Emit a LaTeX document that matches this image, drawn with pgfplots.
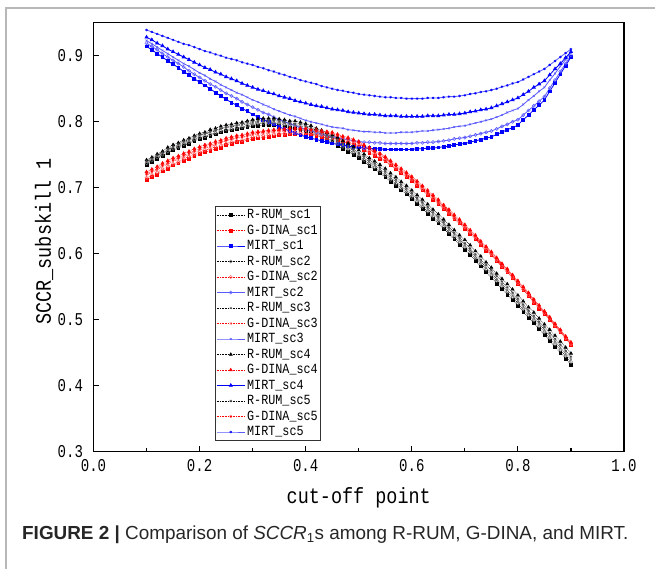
\documentclass[border=0pt]{standalone}
\usepackage{pgfplots}
\pgfplotsset{compat=1.18}
\usepackage{pgfplotstable}
\usepackage{fontspec}
\setmainfont{Liberation Serif}
\newfontfamily\chartfont[FakeStretch=0.84]{Liberation Mono}
\newfontfamily\tickfont[FakeStretch=0.78]{Liberation Mono}
\newfontfamily\capfont{Liberation Sans}

\definecolor{rgray}{RGB}{110,110,110}
\definecolor{lred}{RGB}{255,90,90}
\definecolor{mblue}{RGB}{0,0,255}
\definecolor{lblue}{RGB}{90,90,255}

% R-RUM: x sc1 sc2 sc3 sc4 sc5
\pgfplotstableread{
x s1 s2 s3 s4 s5
0.10 0.735 0.737 0.739 0.742 0.740
0.11 0.739 0.741 0.743 0.746 0.744
0.12 0.744 0.746 0.748 0.751 0.749
0.13 0.748 0.750 0.752 0.755 0.753
0.14 0.753 0.755 0.757 0.761 0.758
0.15 0.757 0.759 0.761 0.765 0.762
0.16 0.760 0.762 0.764 0.768 0.766
0.17 0.764 0.766 0.768 0.772 0.770
0.18 0.767 0.769 0.771 0.775 0.773
0.19 0.771 0.773 0.775 0.779 0.777
0.20 0.774 0.776 0.779 0.782 0.780
0.21 0.776 0.778 0.781 0.784 0.782
0.22 0.779 0.781 0.784 0.788 0.785
0.23 0.781 0.783 0.786 0.790 0.787
0.24 0.784 0.786 0.789 0.793 0.790
0.25 0.786 0.788 0.791 0.795 0.792
0.26 0.787 0.789 0.792 0.796 0.793
0.27 0.789 0.791 0.794 0.798 0.795
0.28 0.790 0.792 0.795 0.799 0.797
0.29 0.792 0.794 0.797 0.801 0.799
0.30 0.793 0.796 0.798 0.803 0.800
0.31 0.794 0.797 0.799 0.804 0.801
0.32 0.795 0.798 0.800 0.805 0.802
0.33 0.795 0.798 0.800 0.805 0.802
0.34 0.795 0.798 0.800 0.805 0.802
0.35 0.794 0.797 0.799 0.804 0.801
0.36 0.793 0.796 0.798 0.803 0.800
0.37 0.791 0.794 0.796 0.801 0.798
0.38 0.790 0.793 0.795 0.801 0.797
0.39 0.788 0.791 0.793 0.799 0.796
0.40 0.786 0.789 0.792 0.797 0.794
0.41 0.783 0.786 0.789 0.794 0.791
0.42 0.779 0.782 0.785 0.790 0.787
0.43 0.776 0.779 0.782 0.787 0.784
0.44 0.772 0.775 0.778 0.783 0.780
0.45 0.769 0.772 0.775 0.780 0.777
0.46 0.764 0.767 0.770 0.776 0.772
0.47 0.759 0.762 0.765 0.771 0.767
0.48 0.755 0.758 0.761 0.767 0.763
0.49 0.750 0.753 0.756 0.762 0.758
0.50 0.745 0.748 0.751 0.757 0.753
0.51 0.739 0.742 0.745 0.751 0.748
0.52 0.733 0.736 0.739 0.745 0.742
0.53 0.728 0.731 0.734 0.740 0.737
0.54 0.722 0.725 0.728 0.735 0.731
0.55 0.716 0.719 0.722 0.729 0.725
0.56 0.709 0.712 0.715 0.722 0.718
0.57 0.703 0.706 0.709 0.716 0.712
0.58 0.696 0.699 0.702 0.709 0.705
0.59 0.690 0.693 0.696 0.703 0.699
0.60 0.683 0.686 0.690 0.696 0.692
0.61 0.676 0.679 0.683 0.689 0.685
0.62 0.668 0.671 0.675 0.682 0.678
0.63 0.661 0.664 0.668 0.675 0.671
0.64 0.653 0.656 0.660 0.667 0.663
0.65 0.646 0.649 0.653 0.660 0.656
0.66 0.638 0.641 0.645 0.652 0.648
0.67 0.630 0.633 0.637 0.644 0.640
0.68 0.622 0.625 0.629 0.636 0.632
0.69 0.614 0.617 0.621 0.628 0.624
0.70 0.606 0.610 0.613 0.621 0.616
0.71 0.598 0.602 0.605 0.613 0.608
0.72 0.589 0.593 0.596 0.604 0.599
0.73 0.581 0.585 0.588 0.596 0.591
0.74 0.572 0.576 0.579 0.587 0.583
0.75 0.564 0.568 0.571 0.579 0.575
0.76 0.555 0.559 0.562 0.570 0.566
0.77 0.547 0.551 0.554 0.562 0.558
0.78 0.538 0.542 0.545 0.554 0.549
0.79 0.530 0.534 0.537 0.546 0.541
0.80 0.521 0.525 0.529 0.537 0.532
0.81 0.512 0.516 0.520 0.528 0.523
0.82 0.503 0.507 0.511 0.519 0.514
0.83 0.495 0.499 0.503 0.511 0.506
0.84 0.486 0.490 0.494 0.502 0.497
0.85 0.477 0.481 0.485 0.493 0.489
0.86 0.468 0.472 0.476 0.485 0.480
0.87 0.459 0.463 0.467 0.476 0.471
0.88 0.450 0.454 0.458 0.467 0.462
0.89 0.441 0.445 0.449 0.458 0.453
0.90 0.432 0.436 0.440 0.449 0.444
}\rrum

% G-DINA: x sc1 sc2 sc3 sc4 sc5
\pgfplotstableread{
x s1 s2 s3 s4 s5
0.10 0.712 0.715 0.719 0.724 0.721
0.11 0.716 0.719 0.723 0.728 0.725
0.12 0.720 0.723 0.727 0.732 0.729
0.13 0.725 0.728 0.732 0.737 0.734
0.14 0.729 0.732 0.736 0.741 0.738
0.15 0.734 0.736 0.740 0.745 0.742
0.16 0.737 0.739 0.743 0.748 0.745
0.17 0.741 0.744 0.747 0.752 0.749
0.18 0.744 0.747 0.750 0.755 0.752
0.19 0.748 0.751 0.754 0.759 0.756
0.20 0.751 0.754 0.757 0.762 0.759
0.21 0.754 0.757 0.760 0.765 0.762
0.22 0.756 0.759 0.762 0.767 0.764
0.23 0.759 0.762 0.765 0.770 0.767
0.24 0.761 0.764 0.768 0.772 0.769
0.25 0.765 0.767 0.771 0.775 0.772
0.26 0.767 0.769 0.773 0.777 0.774
0.27 0.769 0.771 0.775 0.779 0.776
0.28 0.770 0.772 0.776 0.780 0.777
0.29 0.772 0.774 0.778 0.782 0.779
0.30 0.774 0.777 0.780 0.784 0.782
0.31 0.775 0.778 0.781 0.785 0.783
0.32 0.776 0.779 0.782 0.786 0.784
0.33 0.777 0.780 0.783 0.787 0.785
0.34 0.778 0.781 0.784 0.788 0.786
0.35 0.780 0.782 0.785 0.789 0.787
0.36 0.780 0.782 0.785 0.789 0.787
0.37 0.781 0.783 0.786 0.790 0.788
0.38 0.781 0.783 0.786 0.790 0.788
0.39 0.781 0.783 0.786 0.790 0.788
0.40 0.781 0.783 0.786 0.790 0.788
0.41 0.780 0.782 0.785 0.789 0.787
0.42 0.779 0.781 0.784 0.788 0.786
0.43 0.777 0.779 0.782 0.786 0.784
0.44 0.776 0.779 0.781 0.785 0.783
0.45 0.776 0.778 0.780 0.784 0.782
0.46 0.773 0.775 0.777 0.781 0.779
0.47 0.770 0.772 0.774 0.778 0.776
0.48 0.768 0.770 0.772 0.776 0.774
0.49 0.765 0.767 0.769 0.773 0.771
0.50 0.762 0.764 0.767 0.770 0.768
0.51 0.757 0.759 0.762 0.765 0.763
0.52 0.753 0.755 0.758 0.761 0.759
0.53 0.748 0.750 0.753 0.756 0.754
0.54 0.744 0.746 0.749 0.752 0.750
0.55 0.740 0.741 0.744 0.747 0.745
0.56 0.734 0.735 0.738 0.741 0.739
0.57 0.728 0.730 0.732 0.735 0.733
0.58 0.722 0.724 0.726 0.729 0.727
0.59 0.716 0.718 0.720 0.723 0.721
0.60 0.710 0.712 0.714 0.717 0.715
0.61 0.703 0.705 0.707 0.710 0.708
0.62 0.696 0.698 0.700 0.703 0.701
0.63 0.689 0.691 0.693 0.696 0.694
0.64 0.682 0.684 0.686 0.689 0.687
0.65 0.676 0.677 0.679 0.682 0.680
0.66 0.668 0.669 0.671 0.674 0.672
0.67 0.661 0.662 0.664 0.667 0.665
0.68 0.653 0.654 0.656 0.659 0.657
0.69 0.646 0.647 0.649 0.652 0.650
0.70 0.638 0.640 0.641 0.644 0.643
0.71 0.630 0.632 0.633 0.636 0.635
0.72 0.622 0.624 0.625 0.628 0.627
0.73 0.613 0.615 0.616 0.619 0.618
0.74 0.605 0.607 0.608 0.611 0.610
0.75 0.598 0.599 0.600 0.603 0.602
0.76 0.589 0.590 0.591 0.594 0.593
0.77 0.580 0.581 0.583 0.585 0.584
0.78 0.572 0.573 0.575 0.577 0.576
0.79 0.563 0.564 0.566 0.568 0.567
0.80 0.554 0.555 0.557 0.559 0.558
0.81 0.545 0.546 0.548 0.550 0.549
0.82 0.536 0.537 0.539 0.541 0.540
0.83 0.526 0.527 0.529 0.531 0.530
0.84 0.517 0.519 0.520 0.522 0.521
0.85 0.509 0.510 0.511 0.513 0.512
0.86 0.500 0.501 0.502 0.504 0.503
0.87 0.490 0.491 0.492 0.494 0.493
0.88 0.481 0.482 0.483 0.485 0.484
0.89 0.471 0.472 0.473 0.475 0.474
0.90 0.462 0.463 0.464 0.466 0.465
}\gdina

% MIRT: x sc1 sc2 sc3 sc4 sc5
\pgfplotstableread{
x s1 s2 s3 s4 s5
0.10 0.914 0.919 0.923 0.928 0.939
0.11 0.909 0.914 0.918 0.924 0.936
0.12 0.903 0.909 0.913 0.919 0.933
0.13 0.898 0.903 0.908 0.915 0.930
0.14 0.892 0.898 0.903 0.910 0.927
0.15 0.887 0.893 0.898 0.906 0.924
0.16 0.882 0.888 0.893 0.902 0.921
0.17 0.876 0.883 0.888 0.898 0.918
0.18 0.871 0.877 0.884 0.894 0.916
0.19 0.865 0.872 0.879 0.890 0.913
0.20 0.860 0.867 0.874 0.886 0.910
0.21 0.855 0.862 0.870 0.882 0.907
0.22 0.850 0.857 0.865 0.879 0.905
0.23 0.844 0.853 0.861 0.875 0.902
0.24 0.839 0.848 0.856 0.872 0.900
0.25 0.834 0.843 0.852 0.868 0.897
0.26 0.829 0.839 0.848 0.865 0.895
0.27 0.825 0.835 0.844 0.862 0.893
0.28 0.820 0.830 0.841 0.858 0.890
0.29 0.816 0.826 0.837 0.855 0.888
0.30 0.811 0.822 0.833 0.852 0.886
0.31 0.807 0.818 0.830 0.849 0.883
0.32 0.803 0.814 0.826 0.847 0.881
0.33 0.800 0.811 0.823 0.844 0.878
0.34 0.796 0.807 0.819 0.842 0.876
0.35 0.792 0.803 0.816 0.839 0.873
0.36 0.789 0.800 0.813 0.837 0.871
0.37 0.786 0.797 0.810 0.835 0.868
0.38 0.783 0.794 0.808 0.832 0.866
0.39 0.780 0.791 0.805 0.830 0.863
0.40 0.777 0.788 0.802 0.828 0.861
0.41 0.775 0.786 0.800 0.826 0.859
0.42 0.773 0.784 0.798 0.824 0.857
0.43 0.771 0.781 0.796 0.823 0.854
0.44 0.769 0.779 0.794 0.821 0.852
0.45 0.767 0.777 0.792 0.819 0.850
0.46 0.766 0.776 0.791 0.818 0.848
0.47 0.765 0.774 0.790 0.817 0.847
0.48 0.763 0.773 0.788 0.815 0.845
0.49 0.762 0.771 0.787 0.814 0.844
0.50 0.761 0.770 0.786 0.813 0.842
0.51 0.760 0.769 0.785 0.812 0.841
0.52 0.760 0.769 0.785 0.811 0.840
0.53 0.759 0.768 0.784 0.811 0.839
0.54 0.759 0.768 0.784 0.810 0.838
0.55 0.758 0.767 0.783 0.809 0.837
0.56 0.758 0.767 0.783 0.809 0.837
0.57 0.758 0.767 0.783 0.809 0.836
0.58 0.758 0.767 0.784 0.808 0.836
0.59 0.758 0.767 0.784 0.808 0.835
0.60 0.758 0.767 0.784 0.808 0.835
0.61 0.759 0.768 0.785 0.808 0.835
0.62 0.759 0.768 0.786 0.808 0.835
0.63 0.760 0.769 0.786 0.809 0.836
0.64 0.760 0.769 0.787 0.809 0.836
0.65 0.761 0.770 0.788 0.809 0.836
0.66 0.762 0.771 0.789 0.810 0.837
0.67 0.763 0.772 0.790 0.811 0.838
0.68 0.765 0.774 0.792 0.811 0.838
0.69 0.766 0.775 0.793 0.812 0.839
0.70 0.767 0.776 0.794 0.813 0.840
0.71 0.769 0.778 0.796 0.815 0.842
0.72 0.771 0.780 0.798 0.816 0.843
0.73 0.773 0.782 0.800 0.818 0.845
0.74 0.775 0.784 0.802 0.819 0.846
0.75 0.777 0.786 0.804 0.821 0.848
0.76 0.781 0.789 0.807 0.824 0.850
0.77 0.784 0.793 0.810 0.827 0.853
0.78 0.788 0.796 0.814 0.830 0.855
0.79 0.791 0.800 0.817 0.833 0.858
0.80 0.795 0.803 0.820 0.836 0.860
0.81 0.803 0.810 0.826 0.841 0.864
0.82 0.810 0.817 0.833 0.846 0.868
0.83 0.818 0.824 0.839 0.852 0.872
0.84 0.825 0.831 0.846 0.857 0.876
0.85 0.833 0.838 0.852 0.862 0.880
0.86 0.846 0.851 0.863 0.871 0.886
0.87 0.859 0.863 0.873 0.880 0.892
0.88 0.872 0.876 0.884 0.888 0.898
0.89 0.885 0.888 0.894 0.897 0.904
0.90 0.898 0.901 0.905 0.906 0.910
}\mirt

\begin{document}
\begin{tikzpicture}
\path[use as bounding box] (0bp,0bp) rectangle (655bp,-569bp);
\draw[black!28, line width=1.6bp] (6bp,-569bp) -- (6bp,-8bp) -- (655bp,-8bp);

\begin{axis}[
  at={(93.5bp,-451.7bp)}, anchor=south west,
  scale only axis, width=530.5bp, height=429bp,
  xmin=0, xmax=1, ymin=0.3, ymax=0.95,
  xtick={0,0.2,...,1.0}, minor xtick={0.1,0.3,...,0.9},
  ytick={0.3,0.4,...,0.9},
  xtick pos=bottom, ytick pos=left,
  tick align=inside,
  major tick length=6bp, minor tick length=4bp,
  every tick/.style={black, line width=1.1bp},
  axis line style={line width=1.5bp},
  /pgf/number format/assume math mode=true,
  xticklabel style={font=\tickfont\fontsize{18bp}{20bp}\selectfont, yshift=-4bp, /pgf/number format/.cd, fixed, fixed zerofill, precision=1},
  yticklabel style={font=\tickfont\fontsize{18bp}{20bp}\selectfont, xshift=-7bp, /pgf/number format/.cd, fixed, fixed zerofill, precision=1},
  xlabel={cut-off point}, ylabel={SCCR\_subskill 1},
  xlabel style={font=\chartfont\fontsize{22bp}{24bp}\selectfont, at={(axis description cs:0.5,-0.108)}, anchor=center},
  ylabel style={font=\chartfont\fontsize{22bp}{24bp}\selectfont, at={(axis description cs:-0.0933,0.49)}, anchor=center},
  legend cell align=left,
  legend style={at={(axis cs:0.229,0.316)}, anchor=south west, draw=black!80, line width=0.8bp,
    font=\chartfont\fontsize{14bp}{15bp}\selectfont, row sep=0pt, inner xsep=1bp, inner ysep=1bp,
    nodes={inner sep=2bp, text height=9.5bp, text depth=2bp},
    /tikz/every even column/.append style={column sep=1bp}},
  legend image code/.code={\draw[mark repeat=2, mark phase=2] plot coordinates {(0bp,0bp) (14bp,0bp) (28bp,0bp)};},
]
% sc1
\addplot[black, densely dotted, line width=0.6bp, mark=square*, mark size=1.4bp, mark options={solid, fill=black}] table[x=x,y=s1] {\rrum};
\addlegendentry{R-RUM\_sc1}
\addplot[red, densely dotted, line width=0.6bp, mark=square*, mark size=1.4bp, mark options={solid, fill=red}] table[x=x,y=s1] {\gdina};
\addlegendentry{G-DINA\_sc1}
\addplot[mblue, line width=0.8bp, mark=square*, mark size=1.4bp, mark options={solid, fill=mblue}] table[x=x,y=s1] {\mirt};
\addlegendentry{MIRT\_sc1}
% sc2
\addplot[black, densely dotted, line width=0.6bp, mark=o, mark size=1.6bp, mark options={solid, draw=rgray, line width=0.5bp}] table[x=x,y=s2] {\rrum};
\addlegendentry{R-RUM\_sc2}
\addplot[red, densely dotted, line width=0.6bp, mark=o, mark size=1.6bp, mark options={solid, draw=lred, line width=0.5bp}] table[x=x,y=s2] {\gdina};
\addlegendentry{G-DINA\_sc2}
\addplot[lblue, line width=0.8bp, mark=o, mark size=1.6bp, mark options={solid, draw=lblue, line width=0.5bp}] table[x=x,y=s2] {\mirt};
\addlegendentry{MIRT\_sc2}
% sc3
\addplot[black, densely dotted, line width=0.6bp, mark=x, mark size=1.3bp, mark options={solid, draw=rgray, line width=0.5bp}] table[x=x,y=s3] {\rrum};
\addlegendentry{R-RUM\_sc3}
\addplot[red, densely dotted, line width=0.6bp, mark=x, mark size=1.3bp, mark options={solid, draw=lred, line width=0.5bp}] table[x=x,y=s3] {\gdina};
\addlegendentry{G-DINA\_sc3}
\addplot[lblue, line width=0.8bp, mark=x, mark size=1.3bp, mark options={solid, draw=lblue, line width=0.5bp}] table[x=x,y=s3] {\mirt};
\addlegendentry{MIRT\_sc3}
% sc4
\addplot[black, densely dotted, line width=0.6bp, mark=triangle*, mark size=1.7bp, mark options={solid, fill=black}] table[x=x,y=s4] {\rrum};
\addlegendentry{R-RUM\_sc4}
\addplot[red, densely dotted, line width=0.6bp, mark=triangle*, mark size=1.7bp, mark options={solid, fill=red}] table[x=x,y=s4] {\gdina};
\addlegendentry{G-DINA\_sc4}
\addplot[mblue, line width=0.8bp, mark=triangle*, mark size=1.7bp, mark options={solid, fill=mblue}] table[x=x,y=s4] {\mirt};
\addlegendentry{MIRT\_sc4}
% sc5
\addplot[black, densely dotted, line width=0.6bp, mark=asterisk, mark size=1.3bp, mark options={solid, draw=black!70, line width=0.5bp}] table[x=x,y=s5] {\rrum};
\addlegendentry{R-RUM\_sc5}
\addplot[red, densely dotted, line width=0.6bp, mark=asterisk, mark size=1.3bp, mark options={solid, draw=red, line width=0.5bp}] table[x=x,y=s5] {\gdina};
\addlegendentry{G-DINA\_sc5}
\addplot[lblue, line width=0.8bp, mark=asterisk, mark size=1.3bp, mark options={solid, draw=mblue, line width=0.5bp}] table[x=x,y=s5] {\mirt};
\addlegendentry{MIRT\_sc5}
\end{axis}

\node[anchor=base west, inner sep=0pt, text=black!85, font=\capfont\fontsize{18.9bp}{22bp}\selectfont] at (22bp,-539bp)
  {\textbf{FIGURE 2 |} Comparison of \textit{SCCR}\textsubscript{1}s among R-RUM, G-DINA, and MIRT.};
\end{tikzpicture}
\end{document}
